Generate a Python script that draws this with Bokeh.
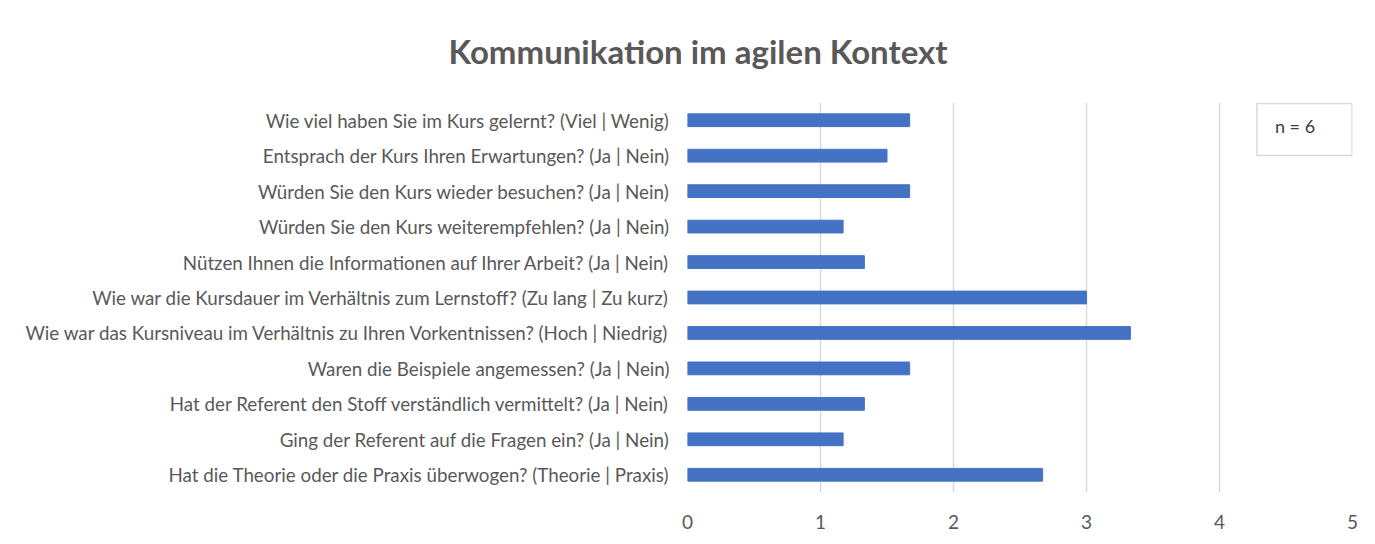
from bokeh.plotting import figure
from bokeh.models import ColumnDataSource, FactorRange, Range1d, Label, FixedTicker
from bokeh.embed import file_html
from bokeh.resources import INLINE

questions = [
    "Wie viel haben Sie im Kurs gelernt? (Viel | Wenig)",
    "Entsprach der Kurs Ihren Erwartungen? (Ja | Nein)",
    "Würden Sie den Kurs wieder besuchen? (Ja | Nein)",
    "Würden Sie den Kurs weiterempfehlen? (Ja | Nein)",
    "Nützen Ihnen die Informationen auf Ihrer Arbeit? (Ja | Nein)",
    "Wie war die Kursdauer im Verhältnis zum Lernstoff? (Zu lang | Zu kurz)",
    "Wie war das Kursniveau im Verhältnis zu Ihren Vorkentnissen? (Hoch | Niedrig)",
    "Waren die Beispiele angemessen? (Ja | Nein)",
    "Hat der Referent den Stoff verständlich vermittelt? (Ja | Nein)",
    "Ging der Referent auf die Fragen ein? (Ja | Nein)",
    "Hat die Theorie oder die Praxis überwogen? (Theorie | Praxis)",
]
scores = [1.67, 1.5, 1.67, 1.17, 1.33, 3.0, 3.33, 1.67, 1.33, 1.17, 2.67]
x_ticks = [0, 1, 2, 3, 4, 5]
title_text = "Kommunikation im agilen Kontext"
n_text = "n = 6"

FONT = "Lato"
GREY = "#595959"

src = ColumnDataSource(dict(q=questions, v=scores))

p = figure(
    width=1375, height=544,
    y_range=FactorRange(*reversed(questions), range_padding=0),
    x_range=Range1d(0, 5),
    output_backend="svg", toolbar_location=None,
    min_border_left=687, min_border_right=23, min_border_top=102, min_border_bottom=52,
)
p.outline_line_color = None
p.hbar(y="q", right="v", left=0, height=0.36, source=src, color="#4472C4")

p.title.text = title_text
p.title.align = "left"
p.title.offset = -239
p.title.text_font = FONT
p.title.text_font_size = "33px"
p.title.text_font_style = "bold"
p.title.text_color = GREY
p.title.vertical_align = "top"
p.title.standoff = 60

p.xgrid.ticker = FixedTicker(ticks=x_ticks)
p.xgrid.grid_line_color = "#d9d9d9"
p.xgrid.grid_line_width = 1.5
p.ygrid.grid_line_color = None

xaxis = p.below[0]
xaxis.ticker = FixedTicker(ticks=x_ticks)
xaxis.axis_line_color = None
xaxis.major_tick_line_color = None
xaxis.minor_tick_line_color = None
xaxis.major_label_text_font = FONT
xaxis.major_label_text_font_size = "19px"
xaxis.major_label_text_color = GREY
xaxis.major_label_standoff = 16

p.yaxis.axis_line_color = None
p.yaxis.major_tick_line_color = None
p.yaxis.minor_tick_line_color = None
p.yaxis.major_label_text_font = FONT
p.yaxis.major_label_text_font_size = "18.8px"
p.yaxis.major_label_text_color = GREY
p.yaxis.major_label_standoff = 12

p.add_layout(Label(x=1304, y=129, x_units="canvas", y_units="canvas", text=n_text,
                   text_font=FONT, text_font_size="18px", text_color="#404040",
                   text_align="center", text_baseline="middle",
                   border_line_color="#d9d9d9", border_line_width=1.5,
                   background_fill_color="white",
                   padding=dict(left=18, right=37, top=11, bottom=19)))

open("out.html", "w").write(file_html(p, INLINE))
